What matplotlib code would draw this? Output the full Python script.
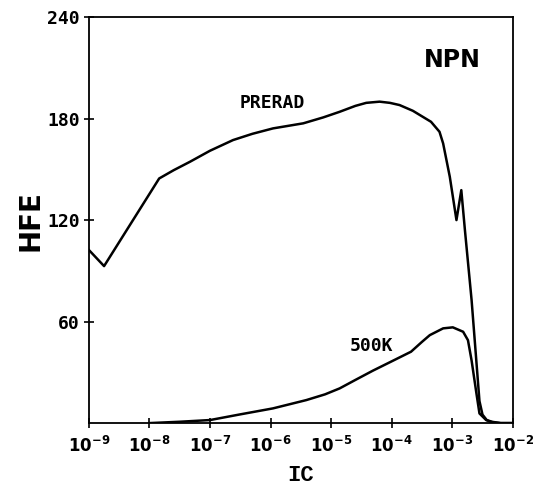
import matplotlib
matplotlib.use("Agg")
import matplotlib.pyplot as plt
import numpy as np

# PRERAD curve: log10(IC) and HFE
prerad_logic = [-9.0, -8.75, -7.84, -7.6, -7.33, -7.0, -6.62, -6.3, -5.96, -5.46,
                -5.13, -4.86, -4.6, -4.42, -4.2, -4.03, -3.87, -3.65, -3.35, -3.21,
                -3.15, -3.04, -2.93, -2.85, -2.79, -2.68, -2.55, -2.5, -2.43, -2.35,
                -2.2, -2.0]
prerad_hfe = [102.3, 92.8, 144.6, 149.5, 154.5, 161.0, 167.3, 171.0, 174.2, 177.2,
              180.7, 184.0, 187.5, 189.3, 190.0, 189.3, 188.0, 184.6, 178.1, 172.2,
              165.3, 145.6, 120.0, 137.7, 114.0, 72.7, 13.0, 5.0, 1.8, 0.5,
              0.0, 0.0]

# 500K curve
k500_logic = [-8.0, -7.5, -7.0, -6.51, -5.96, -5.41, -5.1, -4.86, -4.6, -4.31,
              -4.0, -3.68, -3.5, -3.37, -3.15, -2.99, -2.82, -2.74, -2.68, -2.60,
              -2.55, -2.44, -2.33, -2.2, -2.0]
k500_hfe = [0.0, 0.8, 1.8, 5.1, 8.7, 13.6, 17.0, 20.5, 25.5, 31.0,
            36.5, 42.2, 48.0, 52.0, 56.0, 56.6, 54.0, 49.0, 37.0, 17.5,
            5.7, 1.8, 0.7, 0.0, 0.0]

xticks = [1e-9, 1e-8, 1e-7, 1e-6, 1e-5, 1e-4, 1e-3, 1e-2]
xtick_labels = [r'$\mathbf{10^{-9}}$', r'$\mathbf{10^{-8}}$', r'$\mathbf{10^{-7}}$',
                r'$\mathbf{10^{-6}}$', r'$\mathbf{10^{-5}}$', r'$\mathbf{10^{-4}}$',
                r'$\mathbf{10^{-3}}$', r'$\mathbf{10^{-2}}$']
yticks = [60, 120, 180, 240]
ytick_labels = ['60', '120', '180', '240']

fig = plt.figure(figsize=(5.49, 4.88), dpi=100)
ax = fig.add_axes([0.162, 0.133, 0.772, 0.832])

ax.plot(10 ** np.array(prerad_logic), prerad_hfe, color='black', lw=1.8,
        solid_joinstyle='round')
ax.plot(10 ** np.array(k500_logic), k500_hfe, color='black', lw=1.8,
        solid_joinstyle='round')

ax.set_xscale('log')
ax.set_xlim(1e-9, 1e-2)
ax.set_ylim(0, 240)
ax.minorticks_off()
ax.set_xticks(xticks)
ax.set_xticklabels(xtick_labels, fontsize=12)
ax.set_yticks(yticks)
ax.set_yticklabels(ytick_labels, fontsize=13, fontweight='bold', family='DejaVu Sans Mono')
ax.tick_params(direction='inout', length=7, width=1.2, pad=3)
ax.tick_params(axis='x', pad=6)

for s in ax.spines.values():
    s.set_linewidth(1.3)

ax.set_xlabel('IC', fontsize=16, fontweight='bold', family='Liberation Mono', labelpad=6)
ax.set_ylabel('HFE', fontsize=20, fontweight='bold', family='DejaVu Sans', labelpad=2)

ax.text(10 ** -5.98, 189, 'PRERAD', fontsize=13, fontweight='bold',
        family='DejaVu Sans Mono', ha='center', va='center')
ax.text(10 ** -4.33, 45.5, '500K', fontsize=13, fontweight='bold',
        family='DejaVu Sans Mono', ha='center', va='center')
ax.text(10 ** -3.0, 214.5, 'NPN', fontsize=17, fontweight='bold',
        family='DejaVu Sans', ha='center', va='center')

fig.savefig('out.png', dpi=100)
